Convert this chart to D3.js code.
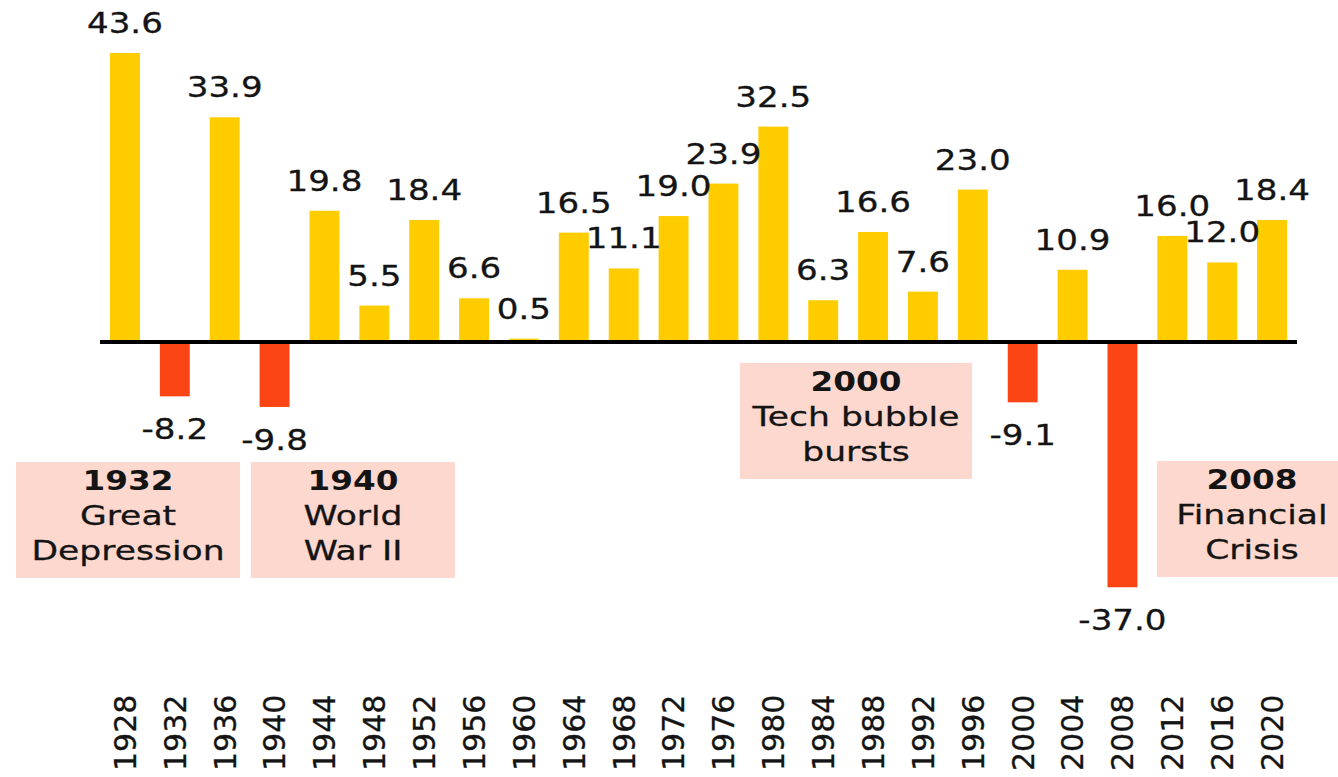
<!DOCTYPE html>
<meta charset="utf-8">
<style>
body { margin: 0; background: #fff; }
svg { display: block; }
text { font-family: "DejaVu Sans", Verdana, sans-serif; fill: #141414; }
</style>
<svg width="1338" height="777"></svg>
<script src="https://cdn.jsdelivr.net/npm/d3@7"></script>
<script>

// data
var years = ["1928","1932","1936","1940","1944","1948","1952","1956","1960","1964","1968","1972",
             "1976","1980","1984","1988","1992","1996","2000","2004","2008","2012","2016","2020"];
var returns = [43.6, -8.2, 33.9, -9.8, 19.8, 5.5, 18.4, 6.6, 0.5, 16.5, 11.1, 19.0,
               23.9, 32.5, 6.3, 16.6, 7.6, 23.0, -9.1, 10.9, -37.0, 16.0, 12.0, 18.4];
var eventYears = ["1932", "1940", "2000", "2008"];
var eventNames = [["Great", "Depression"], ["World", "War II"], ["Tech bubble", "bursts"], ["Financial", "Crisis"]];

// layout of the pink boxes (left, top, width)
var boxLayout = [[16, 462, 224], [251, 462, 204], [740, 363, 232], [1157, 461, 190]];
var boxHeight = 116;
var stretch = 1.24;

var svg = d3.select("svg");

var x = d3.scaleBand()
    .domain(years)
    .range([100, 1297])
    .paddingInner(0.4)
    .paddingOuter(0.2);

var y = d3.scaleLinear()
    .domain([0, 43.6])
    .range([342, 53]);

var data = years.map(function(d, i) { return {year: d, value: returns[i]}; });

svg.append("g")
  .selectAll("rect")
  .data(data)
  .enter().append("rect")
    .attr("x", function(d) { return x(d.year); })
    .attr("width", x.bandwidth())
    .attr("y", function(d) { return d.value >= 0 ? y(d.value) : y(0); })
    .attr("height", function(d) { return Math.abs(y(d.value) - y(0)); })
    .attr("fill", function(d) { return d.value >= 0 ? "#ffcc00" : "#fc4514"; });

svg.append("line")
    .attr("x1", 100).attr("x2", 1297)
    .attr("y1", y(0)).attr("y2", y(0))
    .attr("stroke", "#000")
    .attr("stroke-width", 4);

// value labels
svg.append("g")
  .selectAll("text")
  .data(data)
  .enter().append("text")
    .attr("transform", function(d) {
      var cx = x(d.year) + x.bandwidth() / 2;
      var ty = d.value >= 0 ? y(d.value) - 20 : y(d.value) + 43;
      return "translate(" + cx + "," + ty + ") scale(" + stretch + ",1)";
    })
    .attr("text-anchor", "middle")
    .style("font-size", "27.5px")
    .style("stroke", "#141414")
    .style("stroke-width", 0.3)
    .text(function(d) { return d.value.toFixed(1); });

// event boxes
var ev = svg.append("g")
  .selectAll("g")
  .data(eventYears)
  .enter().append("g");

ev.append("rect")
    .attr("x", function(d, i) { return boxLayout[i][0]; })
    .attr("y", function(d, i) { return boxLayout[i][1]; })
    .attr("width", function(d, i) { return boxLayout[i][2]; })
    .attr("height", boxHeight)
    .attr("fill", "#fdd8cf");

ev.each(function(d, i) {
  var cx = boxLayout[i][0] + boxLayout[i][2] / 2;
  var top = boxLayout[i][1];
  var lines = [d].concat(eventNames[i]);
  d3.select(this).selectAll("text")
    .data(lines)
    .enter().append("text")
      .attr("transform", function(t, j) {
        var s = j == 0 ? 1.21 : 1.28;
        return "translate(" + cx + "," + (top + 28 + j * 35) + ") scale(" + s + ",1)";
      })
      .attr("text-anchor", "middle")
      .style("font-size", "27px")
      .style("font-weight", function(t, j) { return j == 0 ? "bold" : "normal"; })
      .style("stroke", "#141414")
      .style("stroke-width", function(t, j) { return j == 0 ? 0 : 0.3; })
      .text(function(t) { return t; });
});

// year axis
var axis = svg.append("g")
    .attr("transform", "translate(0,771)")
    .call(d3.axisBottom(x).tickSize(0));

axis.select(".domain").remove();
axis.selectAll("text")
    .attr("transform", "rotate(-90)")
    .attr("x", 0)
    .attr("y", 0)
    .attr("dy", "0.36em")
    .attr("text-anchor", "start")
    .style("font-family", "\"DejaVu Sans\", Verdana, sans-serif")
    .style("font-size", "30px")
    .style("stroke", "#141414")
    .style("stroke-width", 0.3)
    .attr("fill", "#141414");

</script>
